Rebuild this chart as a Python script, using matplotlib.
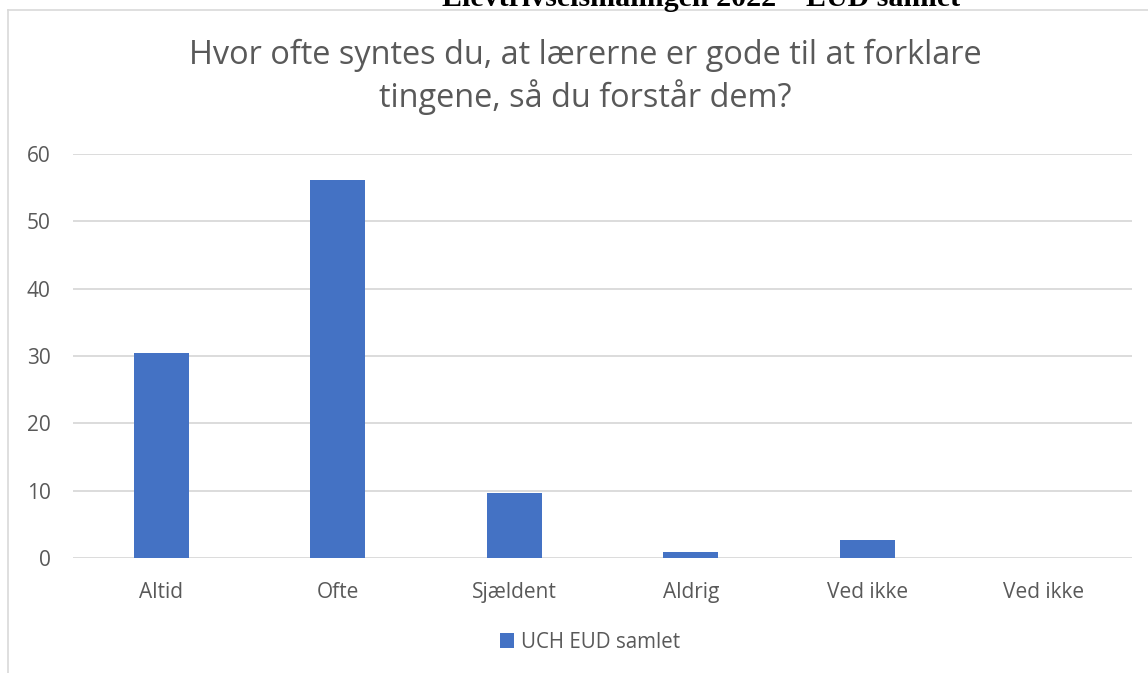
import matplotlib
matplotlib.use("Agg")
import matplotlib.pyplot as plt
from matplotlib.lines import Line2D
from matplotlib.patches import Patch

# ---- data ----
categories = ["Altid", "Ofte", "Sjældent", "Aldrig", "Ved ikke", "Ved ikke"]
values = [30.5, 56.2, 9.7, 0.9, 2.6, 0.0]
series_name = "UCH EUD samlet"
yticks = [0, 10, 20, 30, 40, 50, 60]
title = "Hvor ofte syntes du, at lærerne er gode til at forklare\ntingene, så du forstår dem?"
page_heading = "Elevtrivselsmålingen 2022 – EUD samlet"

W, H = 1148, 673
fig = plt.figure(figsize=(W / 100, H / 100), dpi=100)
fig.patch.set_facecolor("white")

TXT = "#595959"
GRID = "#d9d9d9"
BAR = "#4472C4"
FONT = ["Open Sans", "DejaVu Sans"]

# plot area in pixels
x0, x1 = 73, 1132
y_top, y_bot = 154, 558
ax = fig.add_axes([x0 / W, 1 - y_bot / H, (x1 - x0) / W, (y_bot - y_top) / H])
ax.set_facecolor("none")

xs = list(range(len(categories)))
ax.bar(xs, values, width=0.31, color=BAR, zorder=3, label=series_name)
ax.set_xlim(-0.5, len(categories) - 0.5)
ax.set_ylim(0, 60)
ax.set_yticks(yticks)
ax.set_yticklabels([str(t) for t in yticks], fontsize=15, color=TXT, family=FONT)
ax.set_xticks(xs)
ax.set_xticklabels(categories, fontsize=15, color=TXT, family=FONT)
ax.tick_params(axis="both", length=0)
ax.tick_params(axis="y", pad=16)
ax.tick_params(axis="x", pad=17)
ax.grid(axis="y", color=GRID, linewidth=1.3, zorder=0)
for s in ax.spines.values():
    s.set_visible(False)

# title
fig.text(585 / W, 1 - 77 / H, title, ha="center", va="center", fontsize=23.4,
         color=TXT, family=FONT, linespacing=1.25)

# legend
leg = fig.legend(handles=[Patch(facecolor=BAR, edgecolor="none", label=series_name)],
                 loc="center", bbox_to_anchor=(590 / W, 1 - 642 / H), frameon=False,
                 prop={"family": FONT, "size": 14.8}, handlelength=0.7, handleheight=0.7,
                 handletextpad=0.35)
for t in leg.get_texts():
    t.set_color(TXT)

# chart frame (cropped): left and top borders
fig.add_artist(Line2D([7.5 / W, 7.5 / W], [0, 1 - 9.5 / H], transform=fig.transFigure,
                      color=GRID, linewidth=1.2))
fig.add_artist(Line2D([7.5 / W, 1], [1 - 9.5 / H, 1 - 9.5 / H], transform=fig.transFigure,
                      color=GRID, linewidth=1.2))

# cropped page heading (only lower part visible, as on the source page)
fig.text(701 / W, 1 - 6 / H, page_heading, ha="center", va="baseline", fontsize=21.6,
         fontweight="bold", family=["Liberation Serif", "DejaVu Serif"], color="black")

fig.savefig("out.png", dpi=100, facecolor="white")
